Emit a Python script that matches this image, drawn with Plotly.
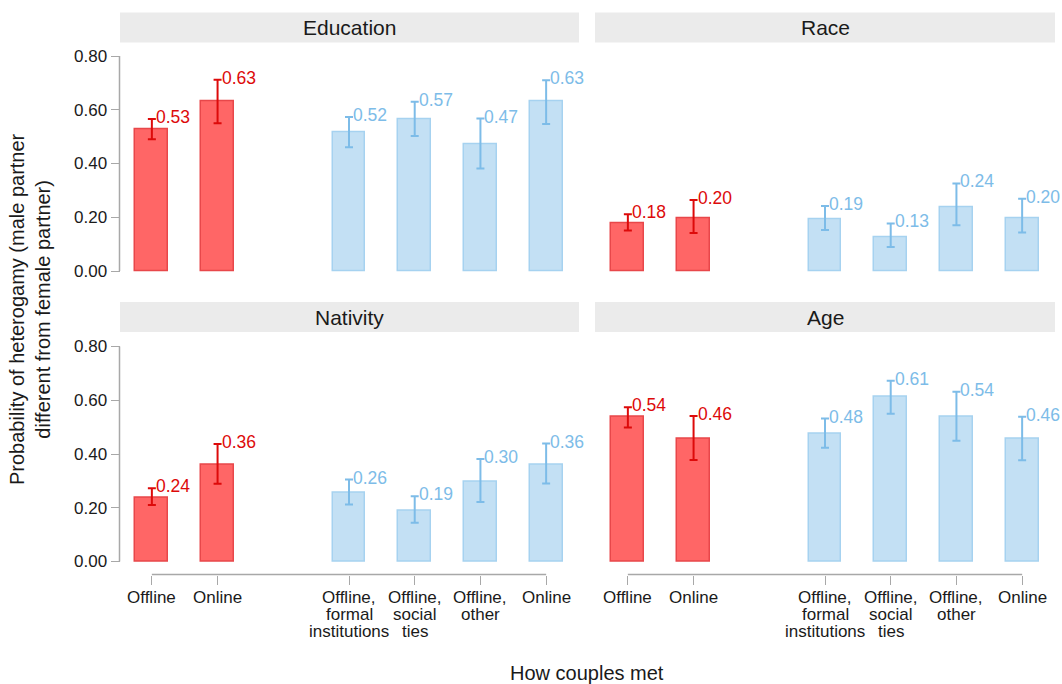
import plotly.graph_objects as go

W, H = 1062, 684
FONT = "Liberation Sans"

facets = ["Education", "Race", "Nativity", "Age"]
positions = [1, 2, 4, 5, 6, 7]
tick_labels = ["Offline", "Online", "Offline,<br>formal<br>institutions",
               "Offline,<br>social<br>ties", "Offline,<br>other", "Online"]

# values per facet: [Offline, Online, Offline formal, Offline social, Offline other, Online]
education = [0.527, 0.633, 0.516, 0.566, 0.471, 0.631]
education_lo = [0.490, 0.550, 0.460, 0.502, 0.381, 0.547]
education_hi = [0.566, 0.712, 0.573, 0.630, 0.567, 0.710]

race = [0.177, 0.196, 0.192, 0.127, 0.238, 0.196]
race_lo = [0.151, 0.141, 0.153, 0.089, 0.170, 0.143]
race_hi = [0.211, 0.264, 0.242, 0.177, 0.326, 0.269]

nativity = [0.238, 0.360, 0.256, 0.189, 0.296, 0.360]
nativity_lo = [0.210, 0.289, 0.212, 0.144, 0.221, 0.290]
nativity_hi = [0.273, 0.437, 0.305, 0.243, 0.381, 0.439]

age = [0.537, 0.457, 0.477, 0.613, 0.538, 0.457]
age_lo = [0.499, 0.378, 0.423, 0.550, 0.449, 0.377]
age_hi = [0.574, 0.541, 0.532, 0.673, 0.632, 0.539]

data = {
    "Education": (education, education_lo, education_hi),
    "Race": (race, race_lo, race_hi),
    "Nativity": (nativity, nativity_lo, nativity_hi),
    "Age": (age, age_lo, age_hi),
}

RED_FILL, RED_LINE, RED_ERR = "#FF6666", "#E8474A", "#DD0A0A"
BLUE_FILL, BLUE_LINE, BLUE_ERR = "#C3E0F4", "#A6D2F0", "#7DBCE8"
AXIS_COL = "#A8A8A8"
TXT = "#1a1a1a"

def px(x):
    return x / W

def py(y):
    return 1 - y / H

# panel pixel boxes: (x0, x1, ytop, ybottom)
ymin, ymax = -0.04, 0.84
unit = 268.75
panels = {
    "Education": (119, 579, 56 - (ymax - 0.8) * unit, 271 - ymin * unit),
    "Race": (595, 1055, 56 - (ymax - 0.8) * unit, 271 - ymin * unit),
    "Nativity": (119, 579, 346.5 - (ymax - 0.8) * unit, 561.5 - ymin * unit),
    "Age": (595, 1055, 346.5 - (ymax - 0.8) * unit, 561.5 - ymin * unit),
}
strips = {
    "Education": (120, 579, 12.5, 42.5),
    "Race": (595, 1055, 12.5, 42.5),
    "Nativity": (120, 579, 302, 332),
    "Age": (595, 1055, 302, 332),
}

fig = go.Figure()
layout = dict(
    width=W, height=H, margin=dict(l=0, r=0, t=0, b=0),
    plot_bgcolor="white", paper_bgcolor="white", showlegend=False,
    font=dict(family=FONT, size=17, color=TXT),
    bargap=0,
)
shapes = []
annotations = []

for i, name in enumerate(facets):
    k = i + 1
    xa = "x" if k == 1 else f"x{k}"
    ya = "y" if k == 1 else f"y{k}"
    vals, lo, hi = data[name]
    x0, x1, yt, yb = panels[name]
    for grp, idx, fill, line, err in [("red", [0, 1], RED_FILL, RED_LINE, RED_ERR),
                                       ("blue", [2, 3, 4, 5], BLUE_FILL, BLUE_LINE, BLUE_ERR)]:
        fig.add_trace(go.Bar(
            x=[positions[j] for j in idx], y=[vals[j] for j in idx],
            width=0.5, marker=dict(color=fill, line=dict(color=line, width=1.5)),
            error_y=dict(type="data", symmetric=False,
                         array=[hi[j] - vals[j] for j in idx],
                         arrayminus=[vals[j] - lo[j] for j in idx],
                         color=err, thickness=2, width=4),
            xaxis=xa, yaxis=ya, hoverinfo="skip",
        ))
        for j in idx:
            annotations.append(dict(
                x=positions[j], y=hi[j], xref=xa, yref=ya, text=f"{vals[j]:.2f}",
                showarrow=False, xanchor="left", yanchor="middle", xshift=2, yshift=2,
                font=dict(family=FONT, size=17.5, color=err)))

    bottom = name in ("Nativity", "Age")
    left = name in ("Education", "Nativity")
    xaxis = dict(domain=[px(x0), px(x1)], range=[0.5, 7.5], showgrid=False,
                 zeroline=False, showline=False, fixedrange=True)
    if bottom:
        xaxis.update(anchor="free", position=py(574.5), tickmode="array",
                     tickvals=positions, ticktext=[""] * len(positions), ticks="outside",
                     ticklen=9, tickcolor=AXIS_COL, tickwidth=1.2, tickangle=0)
        shapes.append(dict(type="line", xref=xa, yref="paper", x0=1, x1=7,
                           y0=py(574.5), y1=py(574.5),
                           line=dict(color=AXIS_COL, width=1.5)))
        # category labels, one text line at a time (tighter line spacing)
        for pos, lab in zip(positions, tick_labels):
            for li, part in enumerate(lab.split("<br>")):
                annotations.append(dict(
                    x=pos, y=py(597 + 17 * li), xref=xa, yref="paper", text=part,
                    showarrow=False, xanchor="center", yanchor="middle",
                    font=dict(family=FONT, size=17, color=TXT)))
    else:
        xaxis.update(anchor=ya, showticklabels=False, ticks="")
    yaxis = dict(domain=[py(yb), py(yt)], range=[ymin, ymax], showgrid=False,
                 zeroline=False, showline=False, fixedrange=True)
    if left:
        yaxis.update(anchor="free", position=px(119.5), tickmode="array",
                     tickvals=[0, 0.2, 0.4, 0.6, 0.8], tickformat=".2f",
                     ticks="outside", ticklen=9, tickcolor=AXIS_COL, tickwidth=1.2,
                     tickfont=dict(family=FONT, size=17, color=TXT))
        shapes.append(dict(type="line", xref="paper", yref=ya,
                           x0=px(119.5), x1=px(119.5), y0=0, y1=0.8,
                           line=dict(color=AXIS_COL, width=1.5)))
    else:
        yaxis.update(anchor=xa, showticklabels=False, ticks="")
    layout["xaxis" if k == 1 else f"xaxis{k}"] = xaxis
    layout["yaxis" if k == 1 else f"yaxis{k}"] = yaxis

    sx0, sx1, sy0, sy1 = strips[name]
    shapes.append(dict(type="rect", xref="paper", yref="paper", x0=px(sx0), x1=px(sx1),
                       y0=py(sy1), y1=py(sy0), fillcolor="#EBEBEB", line=dict(width=0),
                       layer="below"))
    annotations.append(dict(x=px((sx0 + sx1) / 2), y=py((sy0 + sy1) / 2), xref="paper",
                            yref="paper", text=name, showarrow=False, xanchor="center",
                            yanchor="middle", font=dict(family=FONT, size=21, color=TXT)))

annotations.append(dict(x=px(30), y=py(309), xref="paper", yref="paper",
                        text="Probability of heterogamy (male partner<br>different from female partner)",
                        textangle=-90, showarrow=False, xanchor="center", yanchor="middle",
                        font=dict(family=FONT, size=20, color=TXT)))
annotations.append(dict(x=px(587), y=py(673), xref="paper", yref="paper",
                        text="How couples met", showarrow=False, xanchor="center",
                        yanchor="middle", font=dict(family=FONT, size=20, color=TXT)))

layout["shapes"] = shapes
layout["annotations"] = annotations
fig.update_layout(**layout)
fig.write_html("out.html")
